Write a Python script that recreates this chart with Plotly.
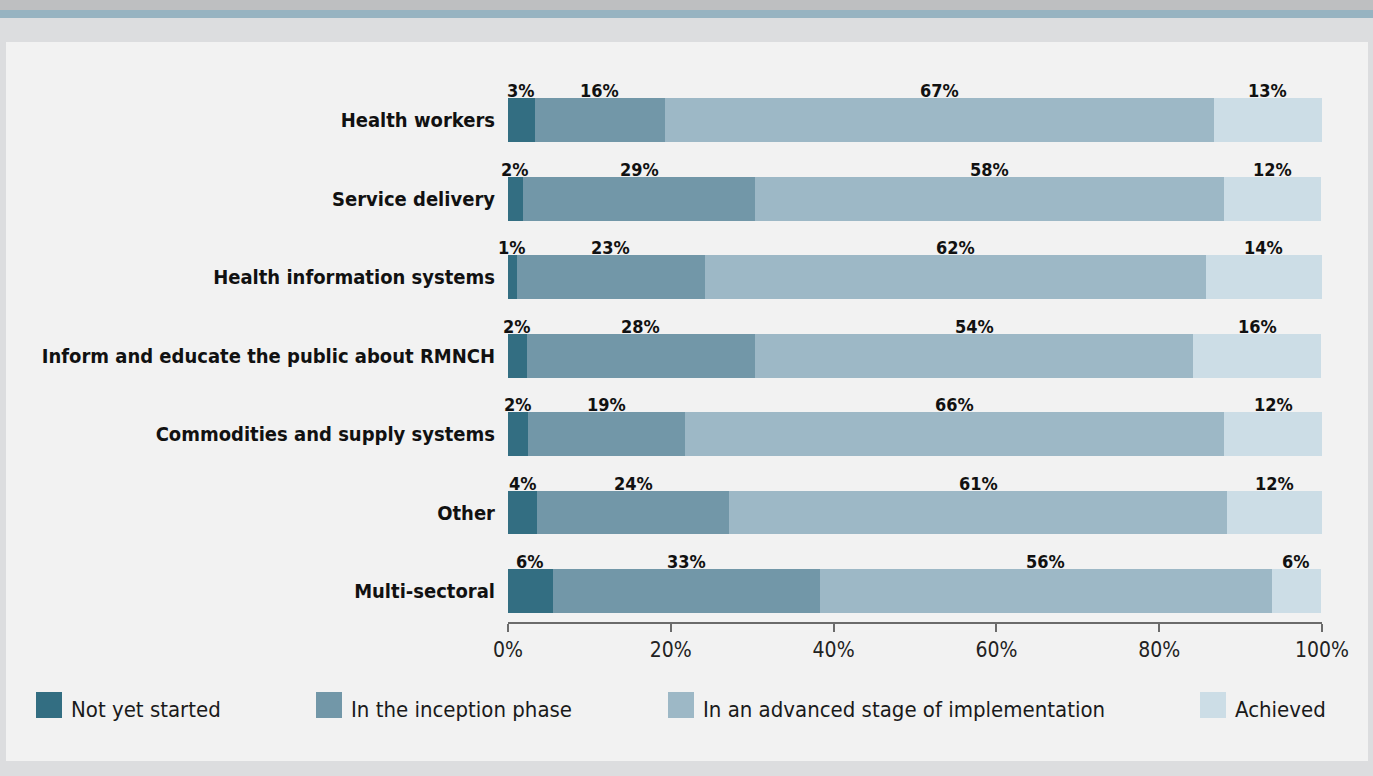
import plotly.graph_objects as go

categories = ["Health workers", "Service delivery", "Health information systems",
              "Inform and educate the public about RMNCH", "Commodities and supply systems",
              "Other", "Multi-sectoral"]
series_names = ["Not yet started", "In the inception phase",
                "In an advanced stage of implementation", "Achieved"]
not_started = [3.3, 1.8, 1.1, 2.3, 2.5, 3.6, 5.5]
inception = [16.0, 28.6, 23.1, 28.0, 19.3, 23.6, 32.8]
advanced = [67.4, 57.6, 61.5, 53.9, 66.2, 61.1, 55.5]
achieved = [13.3, 11.9, 14.3, 15.7, 12.0, 11.8, 6.1]
labels_not_started = ["3%", "2%", "1%", "2%", "2%", "4%", "6%"]
labels_inception = ["16%", "29%", "23%", "28%", "19%", "24%", "33%"]
labels_advanced = ["67%", "58%", "62%", "54%", "66%", "61%", "56%"]
labels_achieved = ["13%", "12%", "14%", "16%", "12%", "12%", "6%"]
tick_vals = [0, 20, 40, 60, 80, 100]
tick_text = ["0%", "20%", "40%", "60%", "80%", "100%"]

colors = ["#336e82", "#7297a8", "#9db8c6", "#ccdde6"]
series = [not_started, inception, advanced, achieved]
series_labels = [labels_not_started, labels_inception, labels_advanced, labels_achieved]

W, H = 1373, 776
L, R, T, B = 508, 51, 73, 154
BAR_W = 0.56
pw, ph = W - L - R, H - T - B

def px_x(p):
    return (p - L) / pw

def px_y(p):
    return (H - B - p) / ph

narrow = "DejaVu Sans Condensed, Liberation Sans Narrow, Arial Narrow, sans-serif"

fig = go.Figure()
ypos = list(range(len(categories)))
for name, vals, col in zip(series_names, series, colors):
    fig.add_trace(go.Bar(y=ypos, x=vals, orientation="h", name=name, width=BAR_W,
                         marker=dict(color=col, line=dict(width=0)), showlegend=False,
                         hoverinfo="x+name"))

annotations = []
for i in range(len(categories)):
    cum = 0
    for vals, labs in zip(series, series_labels):
        v = vals[i]
        annotations.append(dict(x=cum + v / 2, y=i - BAR_W / 2, xref="x", yref="y",
                                text=labs[i], showarrow=False, yanchor="bottom",
                                xanchor="center", yshift=-5,
                                font=dict(family=narrow, size=18, color="#111111", weight="bold")))
        cum += v

shapes = [
    dict(type="rect", xref="paper", yref="paper", x0=px_x(0), x1=px_x(W), y0=px_y(0), y1=px_y(10),
         fillcolor="#bebfc1", line=dict(width=0), layer="below"),
    dict(type="rect", xref="paper", yref="paper", x0=px_x(0), x1=px_x(W), y0=px_y(10), y1=px_y(18),
         fillcolor="#97b3c1", line=dict(width=0), layer="below"),
    dict(type="rect", xref="paper", yref="paper", x0=px_x(6), x1=px_x(1368), y0=px_y(42), y1=px_y(761),
         fillcolor="#f2f2f2", line=dict(width=0), layer="below"),
]

legend_x = [36, 316, 668, 1200]
for lx, name, col in zip(legend_x, series_names, colors):
    shapes.append(dict(type="rect", xref="paper", yref="paper", x0=px_x(lx), x1=px_x(lx + 26),
                       y0=px_y(692), y1=px_y(718), fillcolor=col, line=dict(width=0)))
    annotations.append(dict(x=px_x(lx + 33), y=px_y(710), xref="paper", yref="paper", text=name,
                            showarrow=False, xanchor="left", yanchor="middle",
                            font=dict(family=narrow, size=22, color="#1a1a1a")))

fig.update_layout(
    width=W, height=H, barmode="stack", bargap=0,
    margin=dict(l=L, r=R, t=T, b=B, pad=0),
    paper_bgcolor="#dcdddf", plot_bgcolor="#f2f2f2",
    shapes=shapes, annotations=annotations, showlegend=False,
    xaxis=dict(range=[0, 100], tickvals=tick_vals, ticktext=tick_text, showgrid=False,
               zeroline=False, showline=True, linecolor="#6b6b6b", linewidth=2,
               ticks="outside", ticklen=8, tickwidth=2, tickcolor="#6b6b6b",
               tickfont=dict(family=narrow, size=21, color="#222222")),
    yaxis=dict(range=[6.395, -0.6], tickvals=ypos, ticktext=categories, showgrid=False,
               zeroline=False, showline=False, ticks="", ticklabelstandoff=12,
               tickfont=dict(family=narrow, size=20, color="#111111", weight="bold")),
)

fig.write_html("out.html", config={"displayModeBar": False},
               post_script="document.body.style.margin='0';")
